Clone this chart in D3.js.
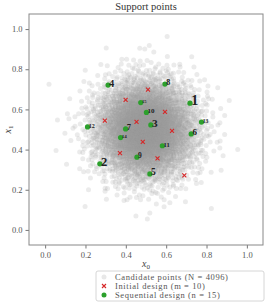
<!DOCTYPE html>
<html>
<head>
<meta charset="utf-8">
<script src="https://cdn.jsdelivr.net/npm/d3@7"></script>
<style>
  body { margin: 0; background: #fff; }
  svg { display: block; font-family: "Liberation Serif", "DejaVu Serif", serif; }
</style>
</head>
<body>
<svg id="chart" width="266" height="305"></svg>
<script>
// initial design (red crosses)
const initX = [0.399, 0.510, 0.296, 0.453, 0.594, 0.629, 0.484, 0.371, 0.557, 0.690];
const initY = [0.648, 0.698, 0.544, 0.538, 0.588, 0.493, 0.438, 0.382, 0.356, 0.272];

// sequential design (green dots), in the order they were picked
const seqX = [0.718, 0.271, 0.524, 0.312, 0.519, 0.724, 0.399, 0.594, 0.455, 0.502, 0.581, 0.210, 0.775, 0.374, 0.474];
const seqY = [0.631, 0.329, 0.523, 0.721, 0.279, 0.478, 0.503, 0.726, 0.362, 0.585, 0.419, 0.513, 0.537, 0.460, 0.634];

const tickVals = [0.0, 0.2, 0.4, 0.6, 0.8, 1.0];
const legendLabels = ["Candidate points (N = 4096)", "Initial design (m = 10)", "Sequential design (n = 15)"];

// candidate pool: 4096 points, gaussian around the centre
// (can't be read from the picture one by one, so build it the same
// deterministic way: halton pairs pushed through box-muller)
const nCand = 4096;
function halton(i, b) {
    let f = 1, r = 0;
    while (i > 0) { f /= b; r += f * (i % b); i = Math.floor(i / b); }
    return r;
}
const cand = d3.range(1, nCand + 1).map(i => {
    const u = halton(i, 2), v = halton(i, 3);
    const rad = Math.sqrt(-2 * Math.log(u)) * 0.125;
    return [0.5 + rad * Math.cos(2 * Math.PI * v), 0.5 + rad * Math.sin(2 * Math.PI * v)];
});

const svg = d3.select("#chart");
const pLeft = 29, pTop = 14, pRight = 263, pBottom = 245;

const x = d3.scaleLinear().domain([-0.08, 1.08]).range([pLeft, pRight]);
const y = d3.scaleLinear().domain([-0.075, 1.075]).range([pBottom, pTop]);

svg.append("clipPath").attr("id", "plotclip")
    .append("rect").attr("x", pLeft).attr("y", pTop)
    .attr("width", pRight - pLeft).attr("height", pBottom - pTop);

const plot = svg.append("g").attr("clip-path", "url(#plotclip)");

plot.append("g").selectAll("circle").data(cand).join("circle")
    .attr("cx", d => x(d[0])).attr("cy", d => y(d[1]))
    .attr("r", 2.5).attr("fill", "#999").attr("fill-opacity", 0.2);

// red crosses
const s = 2;
plot.append("g").selectAll("path").data(d3.range(initX.length)).join("path")
    .attr("d", i => {
        const cx = x(initX[i]), cy = y(initY[i]);
        return `M${cx - s},${cy - s}L${cx + s},${cy + s}M${cx - s},${cy + s}L${cx + s},${cy - s}`;
    })
    .attr("stroke", "#d62728").attr("stroke-width", 1.1).attr("fill", "none");

// green dots + their pick order
plot.append("g").selectAll("circle").data(d3.range(seqX.length)).join("circle")
    .attr("cx", i => x(seqX[i])).attr("cy", i => y(seqY[i]))
    .attr("r", 2.6).attr("fill", "#2ca02c");

const labelSize = d3.scaleLinear().domain([1, 4, 15]).range([14, 10, 4.5]);
plot.append("g").selectAll("text").data(d3.range(seqX.length)).join("text")
    .attr("x", i => x(seqX[i]) + 1.2)
    .attr("y", i => y(seqY[i]) + labelSize(i + 1) * 0.15)
    .attr("font-size", i => labelSize(i + 1))
    .attr("font-weight", "bold")
    .attr("fill", "#222")
    .text(i => i + 1);

// axes
const xAxis = svg.append("g").attr("transform", `translate(0,${pBottom})`)
    .call(d3.axisBottom(x).tickValues(tickVals).tickFormat(d3.format(".1f")).tickSize(3.5).tickPadding(3));
const yAxis = svg.append("g").attr("transform", `translate(${pLeft},0)`)
    .call(d3.axisLeft(y).tickValues(tickVals).tickFormat(d3.format(".1f")).tickSize(3.5).tickPadding(3));
[xAxis, yAxis].forEach(a => {
    a.select(".domain").remove();
    a.selectAll("line").attr("stroke", "#777");
    a.selectAll("text").attr("font-size", 8.5).attr("fill", "#555")
        .attr("font-family", "Liberation Serif, serif");
});

svg.append("rect").attr("x", pLeft).attr("y", pTop)
    .attr("width", pRight - pLeft).attr("height", pBottom - pTop)
    .attr("fill", "none").attr("stroke", "#888").attr("stroke-width", 1);

svg.append("text").attr("x", (pLeft + pRight) / 2).attr("y", 10)
    .attr("text-anchor", "middle").attr("font-size", 10.5).attr("fill", "#333")
    .text("Support points");

const xl = svg.append("text").attr("x", (pLeft + pRight) / 2).attr("y", 267)
    .attr("text-anchor", "middle").attr("font-size", 10).attr("fill", "#444");
xl.append("tspan").attr("font-style", "italic").text("x");
xl.append("tspan").attr("font-size", 7).attr("dy", 2).text("0");

const yl = svg.append("text").attr("transform", `translate(11,${(pTop + pBottom) / 2}) rotate(-90)`)
    .attr("text-anchor", "middle").attr("font-size", 10).attr("fill", "#444");
yl.append("tspan").attr("font-style", "italic").text("x");
yl.append("tspan").attr("font-size", 7).attr("dy", 2).text("1");

// legend
const lg = svg.append("g").attr("transform", "translate(96,271)");
lg.append("rect").attr("width", 168).attr("height", 30).attr("rx", 2)
    .attr("fill", "#fff").attr("fill-opacity", 0.8).attr("stroke", "#ccc").attr("stroke-width", 0.8);
const rowY = d3.scalePoint().domain(legendLabels).range([6, 24]);
lg.append("circle").attr("cx", 8).attr("cy", rowY(legendLabels[0])).attr("r", 2.5).attr("fill", "#e8e8e8");
lg.append("path")
    .attr("d", `M6,${rowY(legendLabels[1]) - 2}l4,4M6,${rowY(legendLabels[1]) + 2}l4,-4`)
    .attr("stroke", "#d62728").attr("stroke-width", 1.1);
lg.append("circle").attr("cx", 8).attr("cy", rowY(legendLabels[2])).attr("r", 2.5).attr("fill", "#2ca02c");
lg.selectAll("text.lab").data(legendLabels).join("text").attr("class", "lab")
    .attr("x", 19).attr("y", d => rowY(d) + 2.5)
    .attr("font-size", 8.5).attr("letter-spacing", 0.6).attr("fill", "#555")
    .text(d => d);
</script>
</body>
</html>
